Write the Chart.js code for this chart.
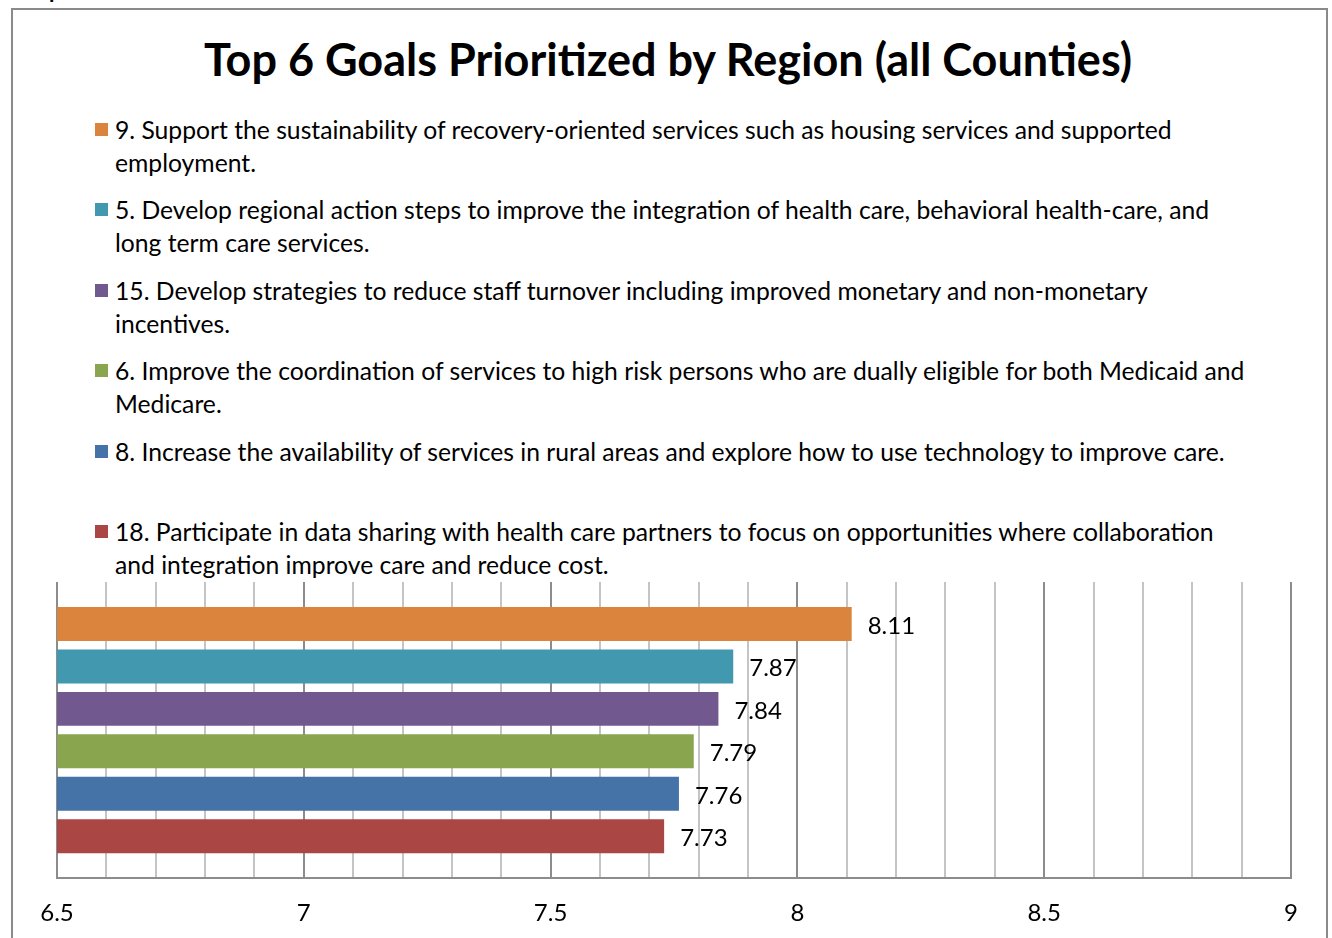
<!DOCTYPE html>
<html>
<head>
<meta charset="utf-8">
<script src="https://cdn.jsdelivr.net/npm/chart.js@4.4.1/dist/chart.umd.min.js"></script>
<style>
    body { margin: 0; width: 1332px; height: 938px; overflow: hidden; background: #fff; font-family: Lato, 'Open Sans', sans-serif; position: relative; }
    #caption { position: absolute; left: 14px; top: -24px; font-size: 22px; font-weight: bold; color: #000; }
    #frame { position: absolute; left: 11px; top: 8px; width: 1313px; height: 1000px; border: 2px solid #8a8a8a; }
    #title { position: absolute; left: 0; top: 32px; width: 1336px; text-align: center; font-size: 45px; font-weight: bold; color: #000; line-height: 54px; }
    #legend { position: absolute; left: 95px; top: 113px; }
    .item { height: 80.4px; display: flex; align-items: flex-start; }
    .box { width: 13px; height: 13px; margin-top: 10px; margin-right: 7px; flex: none; }
    .txt { width: 1138px; font-size: 24.7px; line-height: 33px; color: #000; }
    #chart { position: absolute; left: 0; top: 0; }
</style>
</head>
<body>
<div id="caption">Graph</div>
<div id="frame"></div>
<div id="title">Top 6 Goals Prioritized by Region (all Counties)</div>
<div id="legend"></div>
<canvas id="chart" width="1332" height="960"></canvas>
<script>
// goals, their average priority score and bar colours (same order top to bottom)
const goals = [
    '9. Support the sustainability of recovery-oriented services such as housing services and supported employment.',
    '5. Develop regional action steps to improve the integration of health care, behavioral health-care, and long term care services.',
    '15. Develop strategies to reduce staff turnover including improved monetary and non-monetary incentives.',
    '6. Improve the coordination of services to high risk persons who are dually eligible for both Medicaid and Medicare.',
    '8. Increase the availability of services in rural areas and explore how to use technology to improve care.',
    '18. Participate in data sharing with health care partners to focus on opportunities where collaboration and integration improve care and reduce cost.'
];
const scores = [8.11, 7.87, 7.84, 7.79, 7.76, 7.73];
const colors = ['#DB843D', '#4198AF', '#71588F', '#89A54E', '#4572A7', '#AA4643'];
const xTicks = [6.5, 7, 7.5, 8, 8.5, 9];

// build the legend list by hand so long labels can wrap
const legend = document.getElementById('legend');
goals.forEach((g, i) => {
    const item = document.createElement('div');
    item.className = 'item';
    const box = document.createElement('div');
    box.className = 'box';
    box.style.background = colors[i];
    const txt = document.createElement('div');
    txt.className = 'txt';
    txt.textContent = g;
    item.appendChild(box);
    item.appendChild(txt);
    legend.appendChild(item);
});

// value labels just past the end of each bar
const valueLabels = {
    id: 'valueLabels',
    afterDatasetsDraw(chart) {
        const ctx = chart.ctx;
        ctx.save();
        ctx.font = '24px Lato';
        ctx.fillStyle = '#000';
        ctx.textBaseline = 'middle';
        chart.data.datasets.forEach((ds, i) => {
            const bar = chart.getDatasetMeta(i).data[0];
            ctx.fillText(ds.data[0].toFixed(2), bar.x + 16, bar.y + 2);
        });
        ctx.restore();
    }
};

const isMajor = v => Math.round(v * 10) % 5 === 0;

new Chart(document.getElementById('chart').getContext('2d'), {
    type: 'bar',
    data: {
        labels: [''],
        datasets: goals.map((g, i) => ({
            label: g,
            data: [scores[i]],
            backgroundColor: colors[i],
            categoryPercentage: 0.86,
            barPercentage: 0.8
        }))
    },
    options: {
        indexAxis: 'y',
        responsive: false,
        animation: false,
        layout: { padding: { left: 57, right: 41, top: 582, bottom: 11 } },
        plugins: { legend: { display: false }, tooltip: { enabled: false } },
        scales: {
            x: {
                min: 6.5,
                max: 9,
                ticks: {
                    stepSize: 0.1,
                    autoSkip: false,
                    maxRotation: 0,
                    padding: 21,
                    color: '#000',
                    font: { family: 'Lato', size: 24 },
                    callback: function (v) {
                        const t = xTicks.find(x => Math.abs(x - v) < 1e-6);
                        return t === undefined ? '' : String(t);
                    }
                },
                grid: {
                    drawTicks: false,
                    lineWidth: 2,
                    color: c => isMajor(c.tick.value) ? '#8c8c8c' : '#c4c4c4'
                },
                border: { color: '#8c8c8c', width: 2 }
            },
            y: { display: false }
        }
    },
    plugins: [valueLabels]
});
</script>
</body>
</html>
